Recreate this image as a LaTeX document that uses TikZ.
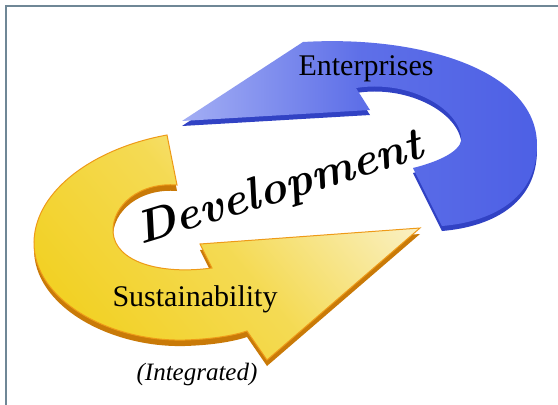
\documentclass[tikz,border=0pt]{standalone}
\usepackage{fontspec}
\usepackage{tikz}
\usepackage{xcolor}
\newfontfamily\labelfont{Liberation Serif}
\definecolor{frameline}{HTML}{6F8796}
\definecolor{bluerim}{HTML}{3142C4}
\definecolor{bluemain}{HTML}{4D60E5}
\definecolor{bluelight}{HTML}{A3AEF4}
\definecolor{yellowrim}{HTML}{C97A08}
\definecolor{yellowmain}{HTML}{F2D125}
\definecolor{yellowlight}{HTML}{FAF0C2}
\definecolor{yellowedge}{HTML}{EE9A18}
\newcommand{\bluearrowpath}{(182,121) -- (303,42)
  .. controls (420,35) and (537,70) .. (537,145)
  .. controls (537,200) and (490,222) .. (442,226) -- (413,168)
  .. controls (445,160) and (465,148) .. (461,135)
  .. controls (455,105) and (405,80) .. (356,88) -- (370,110) -- cycle}
\newcommand{\yellowarrowpath}{(167,135)
  .. controls (95,148) and (35,190) .. (34,242)
  .. controls (33,300) and (110,342) .. (185,340)
  .. controls (215,339) and (235,335) .. (247,331) -- (267,360) -- (420,228)
  -- (200,244) -- (212,268)
  .. controls (160,275) and (115,262) .. (113,232)
  .. controls (112,205) and (140,182) .. (177,185) -- cycle}

\begin{document}
\begin{tikzpicture}[x=1pt,y=-1pt]
\useasboundingbox (0,0) rectangle (558,405);
\fill[white] (0,0) rectangle (558,405);
\draw[frameline,line width=2.5pt](6,405) -- (6,6) -- (558,6);
\fill[bluerim,shift={(0,5)}] \bluearrowpath;
\shade[left color=bluelight,right color=bluemain,middle color=bluemain!80!bluelight] \bluearrowpath;
\fill[yellowrim,shift={(0,6)}] \yellowarrowpath;
\shade[top color=yellowlight,bottom color=yellowmain,middle color=yellowmain!70!yellowlight,shading angle=-50,draw=yellowedge,line width=1pt] \yellowarrowpath;
\node[font=\labelfont\fontsize{30}{30}\selectfont,anchor=base] (enterprises) at (366,75) {Enterprises};
\node[font=\labelfont\fontsize{30}{30}\selectfont,anchor=base] (sustainability) at (195,306) {Sustainability};
\node[font=\labelfont\itshape\fontsize{25}{25}\selectfont,anchor=base] (integrated) at (197,380) {(Integrated)};
\node[font=\bfseries\itshape\fontsize{46}{46}\selectfont,rotate=17] (development) at (280,190) {Development};
\end{tikzpicture}
\end{document}
